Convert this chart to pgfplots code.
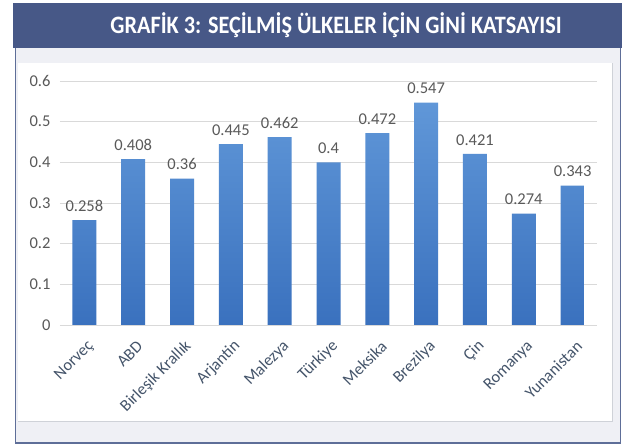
\documentclass[border=0pt]{standalone}
\usepackage{fontspec}
\setmainfont{Carlito}
\usepackage{pgfplots}
\pgfplotsset{compat=1.18}
\definecolor{titlebar}{HTML}{475887}
\definecolor{bordercol}{HTML}{5E6E98}
\definecolor{panelgray}{HTML}{EFF0F5}
\definecolor{shadowgray}{HTML}{CFD2D8}
\definecolor{gridgray}{HTML}{D9D9D9}
\definecolor{bartop}{HTML}{6097D8}
\definecolor{barbot}{HTML}{3A71BE}
\definecolor{labgray}{HTML}{595959}
\definecolor{xlab}{HTML}{44546A}
\begin{document}
\begin{tikzpicture}[x=1pt,y=1pt]
\useasboundingbox (0,0) rectangle (622,446);
\fill[white] (0,0) rectangle (622,446);
\fill[panelgray] (15.5,3) rectangle (620.5,398);
\fill[shadowgray] (18,23.5) rectangle (613,383);
\fill[white] (18,25) rectangle (612,383);
\draw[bordercol, line width=1.5pt] (15.5,398) -- (15.5,3) -- (620.5,3) -- (620.5,398);
\fill[titlebar] (13,398) rectangle (622,443);
\node[white, font=\bfseries\fontsize{25}{28}\selectfont, xscale=0.89, transform shape] at (336,421) {GRAFİK 3: SEÇİLMİŞ ÜLKELER İÇİN GİNİ KATSAYISI};
\begin{axis}[
  at={(60pt,121pt)}, anchor=south west, scale only axis,
  width=537pt, height=244pt,
  xmin=-0.5, xmax=10.5, ymin=0, ymax=0.6,
  axis line style={draw=none}, major tick length=0pt,
  ymajorgrids, grid style={gridgray, line width=0.8pt},
  ytick={0,0.1,0.2,0.3,0.4,0.5,0.6},
  yticklabels={0,0.1,0.2,0.3,0.4,0.5,0.6},
  yticklabel style={font=\fontsize{16.5}{19}\selectfont, text=labgray, xshift=-6pt},
  xtick={0,1,2,3,4,5,6,7,8,9,10},
  xticklabels={Norveç,ABD,Birleşik Krallık,Arjantin,Malezya,Türkiye,Meksika,Brezilya,Çin,Romanya,Yunanistan},
  xticklabel style={font=\fontsize{16.5}{19}\selectfont, text=xlab, rotate=45, anchor=east, xshift=-5pt, yshift=-18pt},
  /pgf/number format/assume math mode=true,
  clip=false,
]
\addplot[ybar, bar width=24pt, draw=none, top color=bartop, bottom color=barbot,
  nodes near coords={\pgfmathprintnumber[fixed,precision=3]{\pgfplotspointmeta}},
  nodes near coords style={font=\fontsize{16.5}{19}\selectfont, text=labgray, anchor=south, yshift=5pt}]
coordinates {(0,0.258) (1,0.408) (2,0.36) (3,0.445) (4,0.462) (5,0.4) (6,0.472) (7,0.547) (8,0.421) (9,0.274) (10,0.343)};
\end{axis}
\end{tikzpicture}
\end{document}
